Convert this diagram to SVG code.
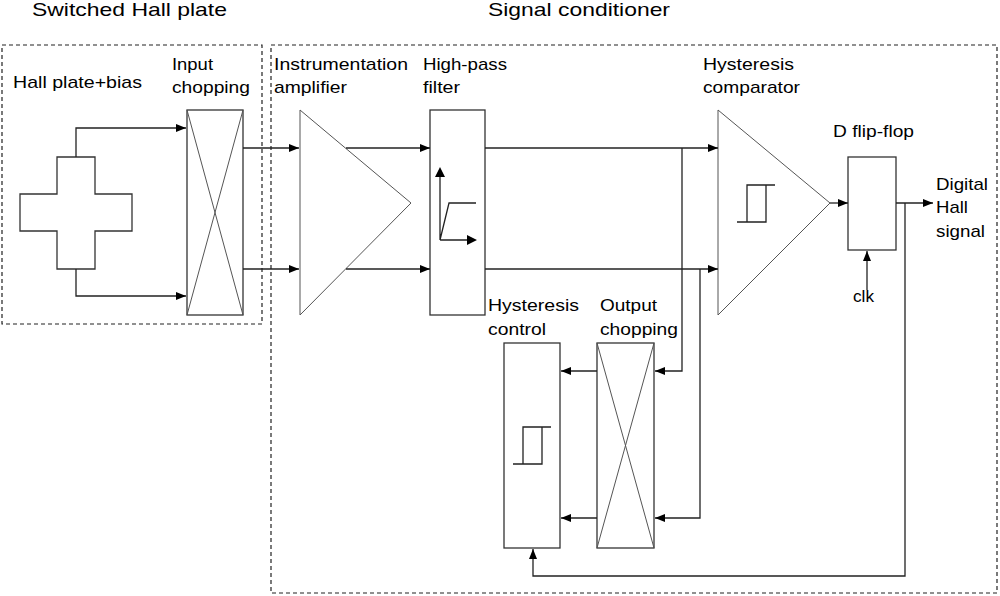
<svg xmlns="http://www.w3.org/2000/svg" width="1000" height="596" viewBox="0 0 1000 596">
<defs><marker id="a" markerWidth="10" markerHeight="8" refX="10" refY="4" orient="auto" markerUnits="userSpaceOnUse"><path d="M0,0L10,4L0,8z" fill="#000"/></marker></defs>
<style>
.b{fill:#fff;stroke:#333;stroke-width:1.3}
.t{fill:none;stroke:#555;stroke-width:1}
.l{fill:none;stroke:#222;stroke-width:1.3}
.d{fill:none;stroke:#222;stroke-width:1.2;stroke-dasharray:4,3}
text{font-family:"Liberation Sans",Arial,sans-serif;font-size:17px;fill:#000}
.h{font-size:19px}
</style>
<rect width="1000" height="596" fill="#fff"/>
<rect class="d" x="2" y="45" width="260" height="279"/>
<rect class="d" x="271" y="45" width="726" height="548"/>
<text class="h" x="32" y="16" textLength="195" lengthAdjust="spacingAndGlyphs">Switched Hall plate</text>
<text class="h" x="488" y="16" textLength="182" lengthAdjust="spacingAndGlyphs">Signal conditioner</text>
<g id="hall"><path class="b" d="M57,157H95V194H132V231H95V269H57V231H20V194H57Z"/><text x="13" y="88" textLength="129" lengthAdjust="spacingAndGlyphs">Hall plate+bias</text></g>
<g id="inchop"><rect class="b" x="187" y="110" width="56" height="205"/><path class="t" d="M187,110L243,315M243,110L187,315"/><text x="172" y="70" textLength="41" lengthAdjust="spacingAndGlyphs">Input</text><text x="172" y="93" textLength="78" lengthAdjust="spacingAndGlyphs">chopping</text></g>
<g id="amp"><path class="t" d="M300,110L411,203L300,315Z"/><text x="274" y="70" textLength="134" lengthAdjust="spacingAndGlyphs">Instrumentation</text><text x="274" y="93" textLength="73" lengthAdjust="spacingAndGlyphs">amplifier</text></g>
<g id="hpf"><rect class="b" x="430" y="110" width="55" height="205"/><path class="l" d="M440,240V176M440,240H468M440,240L449,203H476"/><path d="M440,167L435,177H445Z M477,240L467,235V245Z" fill="#000"/><text x="423" y="70" textLength="84" lengthAdjust="spacingAndGlyphs">High-pass</text><text x="423" y="93" textLength="37" lengthAdjust="spacingAndGlyphs">filter</text></g>
<g id="comp"><path class="t" d="M718,110L830,203L718,315Z"/><path class="l" d="M737,222H766V185H775M747,222V185H766"/><text x="703" y="70" textLength="91" lengthAdjust="spacingAndGlyphs">Hysteresis</text><text x="703" y="93" textLength="97" lengthAdjust="spacingAndGlyphs">comparator</text></g>
<g id="dff"><rect class="b" x="848" y="157" width="48" height="93"/><text x="833" y="137" textLength="81" lengthAdjust="spacingAndGlyphs">D flip-flop</text></g>
<g id="hctl"><rect class="b" x="504" y="343" width="56" height="205"/><path class="l" d="M513,464H542V427H551M523,464V427H542"/><text x="488" y="311" textLength="91" lengthAdjust="spacingAndGlyphs">Hysteresis</text><text x="488" y="335" textLength="58" lengthAdjust="spacingAndGlyphs">control</text></g>
<g id="outchop"><rect class="b" x="597" y="343" width="57" height="205"/><path class="t" d="M597,343L654,548M654,343L597,548"/><text x="600" y="311" textLength="57" lengthAdjust="spacingAndGlyphs">Output</text><text x="600" y="335" textLength="78" lengthAdjust="spacingAndGlyphs">chopping</text></g>
<text x="936" y="190" textLength="52" lengthAdjust="spacingAndGlyphs">Digital</text><text x="936" y="213" textLength="32" lengthAdjust="spacingAndGlyphs">Hall</text><text x="936" y="237" textLength="49" lengthAdjust="spacingAndGlyphs">signal</text>
<text x="853" y="302" textLength="21" lengthAdjust="spacingAndGlyphs">clk</text>
<g id="connectors">
<path class="l" d="M76,157V128H186" marker-end="url(#a)"/>
<path class="l" d="M76,269V296H186" marker-end="url(#a)"/>
<path class="l" d="M243,148H299" marker-end="url(#a)"/>
<path class="l" d="M243,269H299" marker-end="url(#a)"/>
<path class="l" d="M346,148H430" marker-end="url(#a)"/>
<path class="l" d="M346,269H430" marker-end="url(#a)"/>
<path class="l" d="M485,148H718" marker-end="url(#a)"/>
<path class="l" d="M485,269H718" marker-end="url(#a)"/>
<path class="l" d="M830,203H848" marker-end="url(#a)"/>
<path class="l" d="M867,290V251" marker-end="url(#a)"/>
<path class="l" d="M896,203H933" marker-end="url(#a)"/>
<path class="l" d="M905,203V576H533V549" marker-end="url(#a)"/>
<path class="l" d="M682,148V371H655" marker-end="url(#a)"/>
<path class="l" d="M700,269V518H655" marker-end="url(#a)"/>
<path class="l" d="M597,371H561" marker-end="url(#a)"/>
<path class="l" d="M597,518H561" marker-end="url(#a)"/>
</g>
</svg>
